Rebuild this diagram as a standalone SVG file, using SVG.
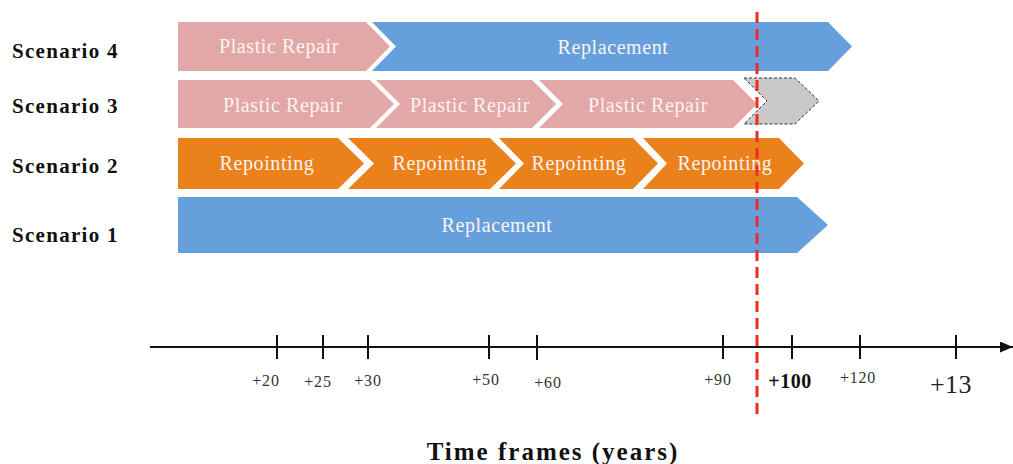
<svg xmlns="http://www.w3.org/2000/svg" width="1013" height="464" viewBox="0 0 1013 464">
<style>
.pink{fill:#E2A8A7}
.blue{fill:#66A0DC}
.orange{fill:#EB811B}
.gray{fill:#C9C9C9;stroke:#333;stroke-width:1;stroke-dasharray:3,2}
.lbl{font-family:"Liberation Serif",serif;font-size:20px;letter-spacing:0.6px;fill:#FDF3F1;text-anchor:middle}
.scn{font-family:"Liberation Serif",serif;font-size:21px;font-weight:bold;letter-spacing:1.3px;fill:#111}
.tick{stroke:#111;stroke-width:2}
.tl{font-family:"Liberation Serif",serif;font-size:16px;letter-spacing:0.8px;fill:#333;text-anchor:middle}
</style>
<defs>
<marker id="arr" viewBox="0 0 10 10" refX="10" refY="5" markerWidth="13" markerHeight="11" markerUnits="userSpaceOnUse" orient="auto" preserveAspectRatio="none">
<path d="M0,0 L10,5 L0,10 z" fill="#111"/>
</marker>
</defs>
<rect width="1013" height="464" fill="#fff"/>

<g id="labels">
<text class="scn" x="12" y="58">Scenario 4</text>
<text class="scn" x="12" y="113">Scenario 3</text>
<text class="scn" x="12" y="173">Scenario 2</text>
<text class="scn" x="12" y="242">Scenario 1</text>
</g>

<g id="s4-plastic">
<path class="pink" d="M178,22 L366,22 L390,46.5 L366,71 L178,71 z"/>
<text class="lbl" x="279" y="53">Plastic Repair</text>
</g>
<g id="s4-replacement">
<path class="blue" d="M372,22 L828,22 L852,46.5 L828,71 L372,71 L396,46.5 z"/>
<text class="lbl" x="613" y="54">Replacement</text>
</g>

<g id="s3-plastic1">
<path class="pink" d="M178,80 L370,80 L394,104 L370,128 L178,128 z"/>
<text class="lbl" x="283" y="112">Plastic Repair</text>
</g>
<g id="s3-plastic2">
<path class="pink" d="M376,80 L532,80 L556,104 L532,128 L376,128 L400,104 z"/>
<text class="lbl" x="470" y="112">Plastic Repair</text>
</g>
<g id="s3-plastic3">
<path class="pink" d="M539,80 L733,80 L757,104 L733,128 L539,128 L563,104 z"/>
<text class="lbl" x="648" y="112">Plastic Repair</text>
</g>
<g id="s3-next">
<path class="gray" d="M744,78 L795,78 L819,101 L795,124 L744,124 L767,101 z"/>
</g>

<g id="s2-rep1">
<path class="orange" d="M178,138 L338,138 L364,163.5 L338,189 L178,189 z"/>
<text class="lbl" x="267" y="170">Repointing</text>
</g>
<g id="s2-rep2">
<path class="orange" d="M348,138 L490,138 L516,163.5 L490,189 L348,189 L374,163.5 z"/>
<text class="lbl" x="440" y="170">Repointing</text>
</g>
<g id="s2-rep3">
<path class="orange" d="M499,138 L633,138 L658,163.5 L633,189 L499,189 L524,163.5 z"/>
<text class="lbl" x="579" y="170">Repointing</text>
</g>
<g id="s2-rep4">
<path class="orange" d="M643,138 L779,138 L804,163.5 L779,189 L643,189 L667,163.5 z"/>
<text class="lbl" x="725" y="170">Repointing</text>
</g>

<g id="s1-replacement">
<path class="blue" d="M178,197 L797,197 L828,225 L797,253 L178,253 z"/>
<text class="lbl" x="497" y="232">Replacement</text>
</g>

<g id="connectors">
<line x1="150" y1="347" x2="1013" y2="347" stroke="#111" stroke-width="2" marker-end="url(#arr)"/>
<line class="tick" x1="277" y1="335" x2="277" y2="359"/>
<line class="tick" x1="323" y1="335" x2="323" y2="359"/>
<line class="tick" x1="368" y1="335" x2="368" y2="359"/>
<line class="tick" x1="489" y1="335" x2="489" y2="359"/>
<line class="tick" x1="537" y1="335" x2="537" y2="360"/>
<line class="tick" x1="723" y1="335" x2="723" y2="359"/>
<line class="tick" x1="792" y1="335" x2="792" y2="359"/>
<line class="tick" x1="860" y1="335" x2="860" y2="359"/>
<line class="tick" x1="956" y1="335" x2="956" y2="359"/>
<line x1="757" y1="12" x2="757" y2="420" stroke="#EE2B24" stroke-width="3" stroke-dasharray="11,6"/>
</g>

<g id="axis-labels">
<text class="tl" x="266" y="386">+20</text>
<text class="tl" x="318" y="387">+25</text>
<text class="tl" x="368" y="386">+30</text>
<text class="tl" x="486" y="385">+50</text>
<text class="tl" x="548" y="388">+60</text>
<text class="tl" x="718" y="385">+90</text>
<text x="790" y="388" font-family="Liberation Serif, serif" font-size="20" font-weight="bold" letter-spacing="0.5" fill="#111" text-anchor="middle">+100</text>
<text class="tl" x="858" y="383">+120</text>
<text x="951" y="393" font-family="Liberation Serif, serif" font-size="26" letter-spacing="0.5" fill="#222" text-anchor="middle">+13</text>
<text x="553" y="460" font-family="Liberation Serif, serif" font-size="25" font-weight="bold" letter-spacing="2" fill="#111" text-anchor="middle">Time frames (years)</text>
</g>
</svg>
